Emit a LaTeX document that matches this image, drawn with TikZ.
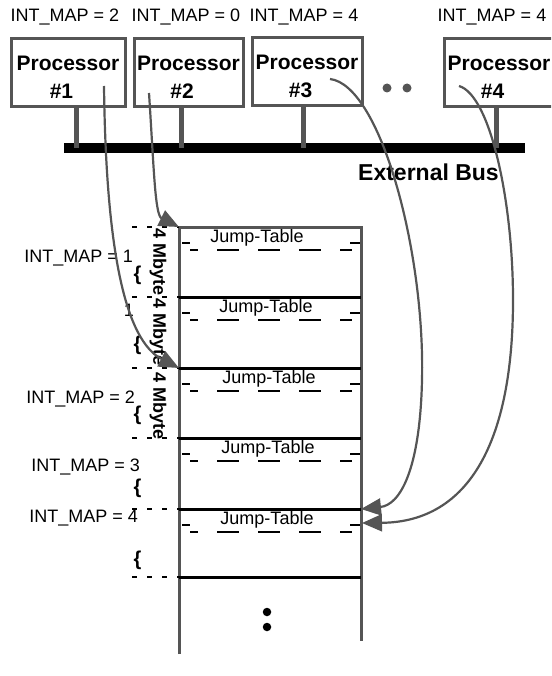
\documentclass[tikz,border=0pt]{standalone}
\usepackage{fontspec}
\setmainfont{Liberation Sans}
\usetikzlibrary{arrows.meta,calc,positioning}
\definecolor{wiregray}{RGB}{85,85,85}
\tikzset{
  procbox/.style  = {draw=wiregray, line width=3pt, minimum width=110pt, minimum height=68pt,
                     inner sep=0pt, align=center, font=\fontsize{21}{28}\selectfont\bfseries},
  tag/.style      = {inner sep=0pt, font=\fontsize{18}{20}\selectfont},
  boldtag/.style  = {inner sep=0pt, font=\fontsize{23}{25}\selectfont\bfseries},
  mbyte/.style    = {inner sep=0pt, rotate=-90, font=\fontsize{18}{20}\selectfont\bfseries},
  brace/.style    = {inner sep=0pt, font=\fontsize{20}{22}\selectfont\bfseries},
  busbar/.style   = {fill=black, inner sep=0pt, minimum width=461pt, minimum height=10.5pt},
  stub/.style     = {wiregray, line width=5pt},
  colwall/.style  = {wiregray, line width=3pt},
  divider/.style  = {black, line width=3pt},
  jumpline/.style = {black, line width=2pt},
  sizetick/.style = {black, line width=2pt, dash pattern=on 5pt off 10pt},
  link/.style     = {wiregray, line width=2.2pt, -{Triangle[length=20pt,width=17pt]}},
  dot/.style      = {circle, fill=black, inner sep=0pt, minimum size=8.5pt},
}
\begin{document}
\begin{tikzpicture}[x=1pt,y=-1pt]
  \useasboundingbox (0,0) rectangle (551,676);
  \clip (0,0) rectangle (551,676);
  % processors on the bus
  \node[tag] (map1) at (65,17) {INT\_MAP = 2};
  \node[tag] (map2) at (186,17) {INT\_MAP = 0};
  \node[tag] (map3) at (304,17) {INT\_MAP = 4};
  \node[tag] (map4) at (492,17) {INT\_MAP = 4};
  \node[procbox, minimum width=114pt] (p1) at (68,72.5) {\rule{0pt}{24pt}Processor\\\#1\rule{13pt}{0pt}};
  \node[procbox, minimum width=109pt] (p2) at (188.5,73) {\rule{0pt}{24pt}Processor\\\#2\rule{13pt}{0pt}};
  \node[procbox] (p3) at (307,72) {\rule{0pt}{24pt}Processor\\\#3\rule{13pt}{0pt}};
  \node[procbox] (p4) at (499,73) {\rule{0pt}{24pt}Processor\\\#4\rule{13pt}{0pt}};
  \node[dot, fill=wiregray, minimum size=9pt] (more1) at (387,88) {};
  \node[dot, fill=wiregray, minimum size=9pt] (more2) at (407,88) {};
  \node[busbar] (bus) at (294.5,148) {};
  \foreach \p/\dx in {p1/8.5, p2/-7.5, p3/-4, p4/-3}
    \draw[stub] ([xshift=\dx pt]\p.south) -- ([xshift=\dx pt]\p.south |- bus.center);
  \node[boldtag] (busname) at (428.5,172.5) {External Bus};

  % memory map
  \draw[colwall] (179,654) -- (179,227) -- (361,227) -- (361,641);
  \foreach \y in {297,368,438,509,577}
    \draw[divider] (179,\y) -- (361,\y);
  \foreach \y/\i in {227/0,297/1,368/2,438/3,509/4,577/5} {
    \coordinate (m\i) at (179,\y);
    \coordinate (n\i) at (361,\y);
    \draw[sizetick] (132,\y) -- (m\i);
  }
  \foreach \y/\i/\jx in {227/0/257, 297/1/266, 368/2/269, 438/3/268, 509/4/267} {
    \node[tag] (jt\i) at (\jx,\y+11) {Jump-Table};
    \draw[jumpline] (182,\y+16) -- (190,\y+16) (350,\y+16) -- (360,\y+16);
    \draw[jumpline, dash pattern=on 22pt off 19pt, dash phase=14pt] (190,\y+23) -- (352,\y+23);
  }
  \node[tag, anchor=east] (lm1) at (133,258.5) {INT\_MAP = 1};
  \node[tag] (lm1b) at (129,310) {1};
  \node[tag, anchor=east] (lm2) at (135,399.5) {INT\_MAP = 2};
  \node[tag, anchor=east] (lm3) at (140,467) {INT\_MAP = 3};
  \node[tag, anchor=east] (lm4) at (138,518) {INT\_MAP = 4};
  \foreach \y/\i in {275/1,345/2,415/3,488/4,560/5}
    \node[brace] (br\i) at (137.5,\y) {\{};
  \node[mbyte] (mb1) at (158,262) {4 Mbyte};
  \node[mbyte] (mb2) at (158,332) {4 Mbyte};
  \node[mbyte] (mb3) at (158,406) {4 Mbyte};
  \node[dot] (etc1) at (267,612) {};
  \node[dot] (etc2) at (267,627) {};

  % interrupt vectors
  \coordinate (s1) at (104,86);
  \coordinate (s2) at (149,93);
  \coordinate (s3) at (330,79);
  \coordinate (s4) at (459,86);
  \coordinate (e4) at (362,523);
  \draw[link] (s1) .. controls (106,250) and (125,340) .. (m2);
  \draw[link] (s2) .. controls (154,170) and (155,215) .. (m0);
  \draw[link] (s3) .. controls (380,85) and (425,250) .. (422,380)
                   .. controls (420,470) and (400,505) .. (n4);
  \draw[link] (s4) .. controls (490,95) and (513,200) .. (513,300)
                   .. controls (513,440) and (470,522) .. (e4);
\end{tikzpicture}
\end{document}
